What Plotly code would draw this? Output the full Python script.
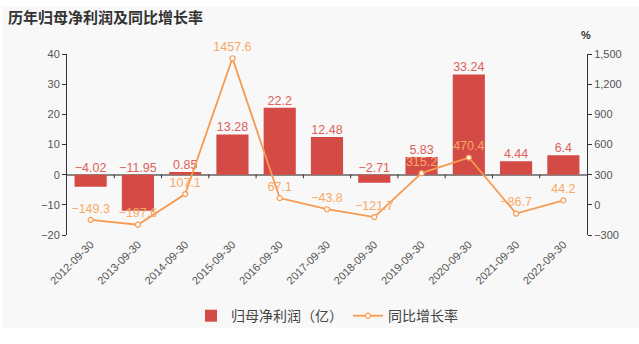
import plotly.graph_objects as go

categories = ["2012-09-30", "2013-09-30", "2014-09-30", "2015-09-30", "2016-09-30",
              "2017-09-30", "2018-09-30", "2019-09-30", "2020-09-30", "2021-09-30", "2022-09-30"]
profit = [-4.02, -11.95, 0.85, 13.28, 22.2, 12.48, -2.71, 5.83, 33.24, 4.44, 6.4]
growth = [-149.3, -197.6, 107.1, 1457.6, 67.1, -43.8, -121.7, 315.2, 470.4, -86.7, 44.2]
profit_labels = ["−4.02", "−11.95", "0.85", "13.28", "22.2", "12.48", "−2.71", "5.83", "33.24", "4.44", "6.4"]
growth_labels = ["−149.3", "−197.6", "107.1", "1457.6", "67.1", "−43.8", "−121.7", "315.2", "470.4", "−86.7", "44.2"]
left_ticks = [-20, -10, 0, 10, 20, 30, 40]
right_ticks = [-300, 0, 300, 600, 900, 1200, 1500]
right_tick_text = ["−300", "0", "300", "600", "900", "1,200", "1,500"]
left_tick_text = ["−20", "−10", "0", "10", "20", "30", "40"]

BAR = "#d44b46"
LINE = "#f79a4f"
FONT = "Liberation Sans, Noto Sans CJK SC, sans-serif"
CJK = "Noto Sans CJK SC, sans-serif"

W, H = 639, 344
L, R, T, B = 67, 52, 54, 107
pw, ph = W - L - R, H - T - B


def px_x(px):
    return (px - L) / pw


def px_y(py):
    return (H - B - py) / ph


fig = go.Figure()
fig.add_trace(go.Bar(
    x=categories, y=profit, name="归母净利润（亿）", marker=dict(color=BAR, line=dict(width=0)),
    width=0.68, yaxis="y", hoverinfo="skip"))
# bar labels at top of bar (or zero line for negative)
fig.add_trace(go.Scatter(
    x=categories, y=[max(v, 0) for v in profit], mode="text", text=profit_labels,
    textposition="top center", textfont=dict(color="#de5f5b", size=12.5, family=FONT),
    showlegend=False, yaxis="y", hoverinfo="skip", cliponaxis=False))
fig.add_trace(go.Scatter(
    x=categories, y=growth, name="同比增长率", mode="lines+markers+text",
    line=dict(color=LINE, width=1.8),
    marker=dict(symbol="circle", size=5, color="white", line=dict(color=LINE, width=1.2)),
    text=growth_labels, textposition="top center",
    textfont=dict(color="#f9a865", size=12.5, family=FONT),
    yaxis="y2", hoverinfo="skip", cliponaxis=False))

bg_shape = dict(type="rect", xref="paper", yref="paper", layer="below",
                x0=px_x(2), x1=px_x(W),
                y0=px_y(331), y1=px_y(6),
                fillcolor="#f8f8f8", line=dict(width=0))

fig.update_layout(
    width=W, height=H, margin=dict(l=L, r=R, t=T, b=B),
    paper_bgcolor="white", plot_bgcolor="rgba(0,0,0,0)",
    font=dict(family=FONT, color="#555555", size=11),
    shapes=[bg_shape],
    xaxis=dict(type="category", showgrid=False, showline=False, zeroline=False,
               tickangle=-45, tickfont=dict(size=11, color="#555555"),
               ticks="", range=[-0.5, len(categories) - 0.5]),
    yaxis=dict(range=[-20, 40], tickvals=left_ticks, ticktext=left_tick_text, showgrid=False,
               showline=True, linecolor="#333333", linewidth=1, ticks="outside", ticklen=4,
               tickcolor="#333333", zeroline=True, zerolinecolor="#888888", zerolinewidth=1.5,
               tickfont=dict(size=11, color="#555555")),
    yaxis2=dict(range=[-300, 1500], tickvals=right_ticks, ticktext=right_tick_text,
                overlaying="y", side="right", showgrid=False, showline=True,
                linecolor="#333333", linewidth=1, ticks="outside", ticklen=4,
                tickcolor="#333333", zeroline=False, tickfont=dict(size=11, color="#555555")),
    legend=dict(orientation="h", x=0.5, xanchor="center", y=px_y(319), yanchor="middle",
                font=dict(size=14, color="#444444", family=CJK), bgcolor="rgba(0,0,0,0)",
                tracegroupgap=0),
    annotations=[
        dict(text="<b>历年归母净利润及同比增长率</b>", xref="paper", yref="paper",
             x=px_x(6), y=px_y(16), xanchor="left", yanchor="middle",
             showarrow=False, font=dict(size=15, color="#333333", family=CJK)),
        dict(text="<b>%</b>", xref="paper", yref="paper", x=px_x(586), y=px_y(35),
             xanchor="center", yanchor="middle", showarrow=False,
             font=dict(size=11, color="#333333", family=FONT)),
    ],
)
# tick marks between categories on the zero line
for i in range(len(categories) - 1):
    fig.add_shape(type="line", xref="x", yref="y", x0=i + 0.5, x1=i + 0.5, y0=0, y1=-1.2,
                  line=dict(color="#333333", width=1))

fig.write_html("out.html")
